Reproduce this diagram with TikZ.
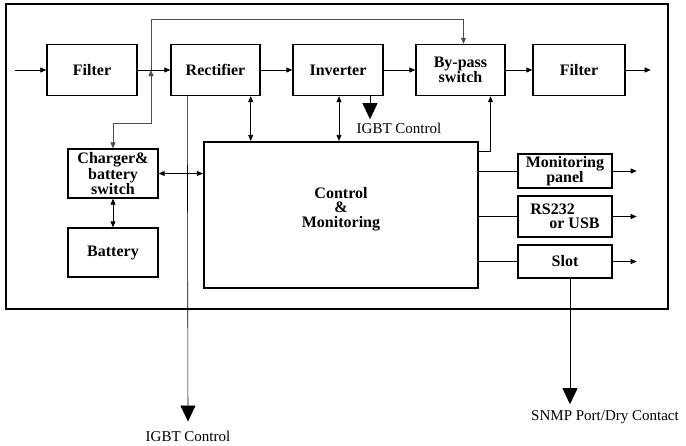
\documentclass[tikz,border=0pt]{standalone}
\usepackage{fontspec}
\setmainfont{Liberation Serif}
\usetikzlibrary{arrows.meta}

\tikzset{
    blk/.style={draw, line width=1.4pt, minimum width=90pt, minimum height=51pt,
        inner sep=1pt, align=center, font=\bfseries\fontsize{16}{14}\selectfont},
    lbl/.style={font=\fontsize{15}{16}\selectfont, inner sep=1pt},
    arr/.style={line width=0.8pt, -{Triangle[width=5pt,length=6pt]}},
    darr/.style={line width=0.8pt, {Triangle[width=5pt,length=6pt]}-{Triangle[width=5pt,length=6pt]}},
    bigarr/.style={line width=0.6pt, -{Triangle[width=15pt,length=16pt]}}
}

\begin{document}
\begin{tikzpicture}[x=1pt,y=-1pt]
            \useasboundingbox (0,0) rectangle (686,445);
            % frame
            \draw[line width=2.2pt] (6,4) rectangle (668,309);

            % power path
            \node[blk] (filterA) at (92,70) {Filter};
            \node[blk, minimum width=89pt] (rect) at (215.5,70) {Rectifier};
            \node[blk] (inv) at (338,70) {Inverter};
            \node[blk, minimum width=89pt] (bps) at (460.5,70) {By-pass\\switch};
            \node[blk, minimum width=92pt] (filterB) at (579,70) {Filter};

            % battery side
            \node[blk, minimum height=49pt] (chg) at (113,173.5) {Charger\&\\battery\\switch};
            \node[blk, minimum height=49pt] (bat) at (113,252.5) {Battery};

            % control
            \node[draw, line width=2.2pt, minimum width=274pt, minimum height=146pt] (ctrl) at (341,215) {};
            \node[align=center, font=\bfseries\fontsize{16}{14.5}\selectfont] (ctrltxt) at (341,209) {Control\\\&\\Monitoring};

            % outputs
            \node[blk, minimum width=94pt, minimum height=34pt] (mon) at (565,171) {Monitoring\\panel};
            \node[blk, minimum width=94pt, minimum height=41pt, align=left] (rs) at (565,216.5) {RS232\\\hspace{19pt}or USB};
            \node[blk, minimum width=94pt, minimum height=33pt] (slot) at (565,261.5) {Slot};

            % labels
            \node[lbl] (igbtA) at (399,128) {IGBT Control};
            \node[lbl] (igbtB) at (188,436) {IGBT Control};
            \node[lbl] (snmp) at (605,417) {SNMP Port/Dry Contact};

            \coordinate (in) at (15,70);
            \coordinate (jct) at (151,70);

            \draw[arr] (in) -- (filterA.west);
            \draw[arr] (filterA.east) -- (rect.west);
            \draw[arr] (rect) -- (inv);
            \draw[arr] (inv) -- (bps);
            \draw[arr] (bps) -- (filterB);
            \draw[arr] (filterB.east) -- ++(25,0);

            % by-pass loop
            \draw[darr, gray!60!black] (chg.north) |- (151,123) -- (jct);
            \draw[arr, gray!60!black] (jct) -- (151,19) -| ([xshift=3]bps.north);

            \draw[darr] ([xshift=-10]rect.south east) -- ([xshift=-10]rect.south east |- ctrl.north);
            \draw[darr] ([xshift=1]inv.south) -- ([xshift=1]inv.south |- ctrl.north);
            \draw[bigarr] ([xshift=32]inv.south) -- ++(0,23);
            \draw[arr] ([yshift=-10]ctrl.north east) -| ([xshift=30]bps.south);

            \draw[darr] (chg.east) -- (chg.east -| ctrl.west);
            \draw[darr] (chg.south) -- (bat.north);

            \draw[line width=0.6pt] (mon.west -| ctrl.east) -- (mon.west);
            \draw[line width=0.6pt] (rs.west -| ctrl.east) -- (rs.west);
            \draw[line width=0.6pt] (slot.west -| ctrl.east) -- (slot.west);
            \draw[arr] (mon.east) -- ++(24,0);
            \draw[arr] (rs.east) -- ++(24,0);
            \draw[arr] (slot.east) -- ++(24,0);

            \draw[bigarr] ([xshift=17]rect.south west) -- ([yshift=8]igbtB.north);
            \draw[bigarr] ([xshift=5]slot.south) -- ([xshift=-35,yshift=5]snmp.north);
\end{tikzpicture}
\end{document}
